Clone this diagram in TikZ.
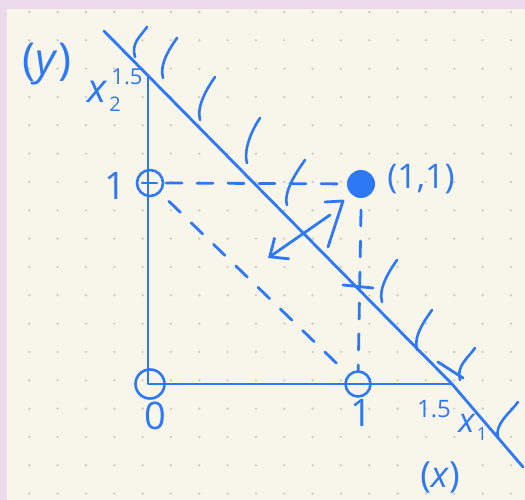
\documentclass[tikz,border=0pt]{standalone}
\usepackage{fontspec}
\setmainfont{Open Sans}
\usetikzlibrary{arrows.meta}
\definecolor{ink}{RGB}{45,120,245}
\definecolor{paper}{RGB}{248,246,235}
\definecolor{frame}{RGB}{235,217,236}
\definecolor{dotc}{RGB}{205,205,196}
\begin{document}
\begin{tikzpicture}[x=1pt,y=-1pt, line cap=round, line join=round,
  pen/.style={draw=ink, line width=2.8pt},
  dashpen/.style={draw=ink, line width=2.8pt, dash pattern=on 16pt off 15pt},
  ring/.style={circle, draw=ink, line width=2.6pt, minimum size=26pt, inner sep=0pt},
  lbl/.style={text=ink, inner sep=0pt, font=\fontsize{#1}{#1}\selectfont},
  hatch/.style={draw=ink, line width=2.6pt}]
\useasboundingbox (0,0) rectangle (525,500);
\fill[frame] (0,0) rectangle (525,500);
\fill[paper] (7,9) rectangle (525,500);
\foreach \i in {0,...,17} \foreach \j in {0,...,17}
  \fill[dotc] ({29.3+28.33*\i},{12+28.33*\j}) circle (1.3pt);

% key points
\coordinate (Y15) at (148,77);
\coordinate (X15) at (452,384);
\coordinate (LA) at (104,31);
\coordinate (LB) at (523,467);
\node[ring, minimum size=29pt] (O) at (150,384) {};
\node[ring] (Y1) at (150,183) {};
\node[ring, minimum size=25pt] (X1) at (358,384) {};
\node[circle, fill=ink, minimum size=28pt, inner sep=0pt] (P) at (361,184) {};

% axes and constraint line
\draw[pen] (Y15) -- (148,384) -- (X15);
\draw[pen] (LA) -- (X15) -- (LB);
\draw[pen] (142,183) -- (157,183);

% dashed guides
\draw[dashpen] (Y1) ++(16,0) -- (P);
\draw[dashpen] (P) ++(0,26) -- (X1);
\draw[dashpen, shorten <=12pt, shorten >=4pt] (Y1) -- (X1);

% gradient arrow and right-angle mark
\coordinate (G0) at (330,215);
\coordinate (G1) at (268,258);
\draw[pen, -{Straight Barb[length=15pt,width=26pt]}] (G0) -- (G1);
\draw[pen] (325,202) -- (343,201) -- (328,247);

% hatch marks
\foreach \tx/\ty/\bx/\by in {147/27/135/57, 177/38/163/78, 215/77/200/120, 260/118/247/163,
  305/160/287/205, 397/260/382/302, 432/310/417/350, 475/348/460/380, 518/402/498/438}
  \draw[hatch] (\tx,\ty) .. controls ({\tx-7},{\ty+10}) and ({\bx-4},{\by-14}) .. (\bx,\by);

% crossing marks
\draw[pen] (343,285) -- (373,288);
\draw[pen] (438,362) -- (463,378);

% labels
\node[lbl=44] (ylab) at (47,64) {(\textit{y})};
\node[lbl=36] (xlab) at (440,477) {(\textit{x})};
\node[lbl=34] (pl) at (421,179) {(1,1)};
\node[lbl=38] (one1) at (115,186) {1};
\node[lbl=38] (zero) at (155,416) {0};
\node[lbl=38] (one2) at (361,413) {1};
\node[lbl=40] (x2a) at (98,92) {\textit{x}};
\node[lbl=20] (x2b) at (115,104) {2};
\node[lbl=22] (t15) at (127,77) {1.5};
\node[lbl=24] (b15) at (434,409) {1.5};
\node[lbl=34] (x1a) at (467,423) {\textit{x}};
\node[lbl=18] (x1b) at (482,434) {1};
\end{tikzpicture}
\end{document}
